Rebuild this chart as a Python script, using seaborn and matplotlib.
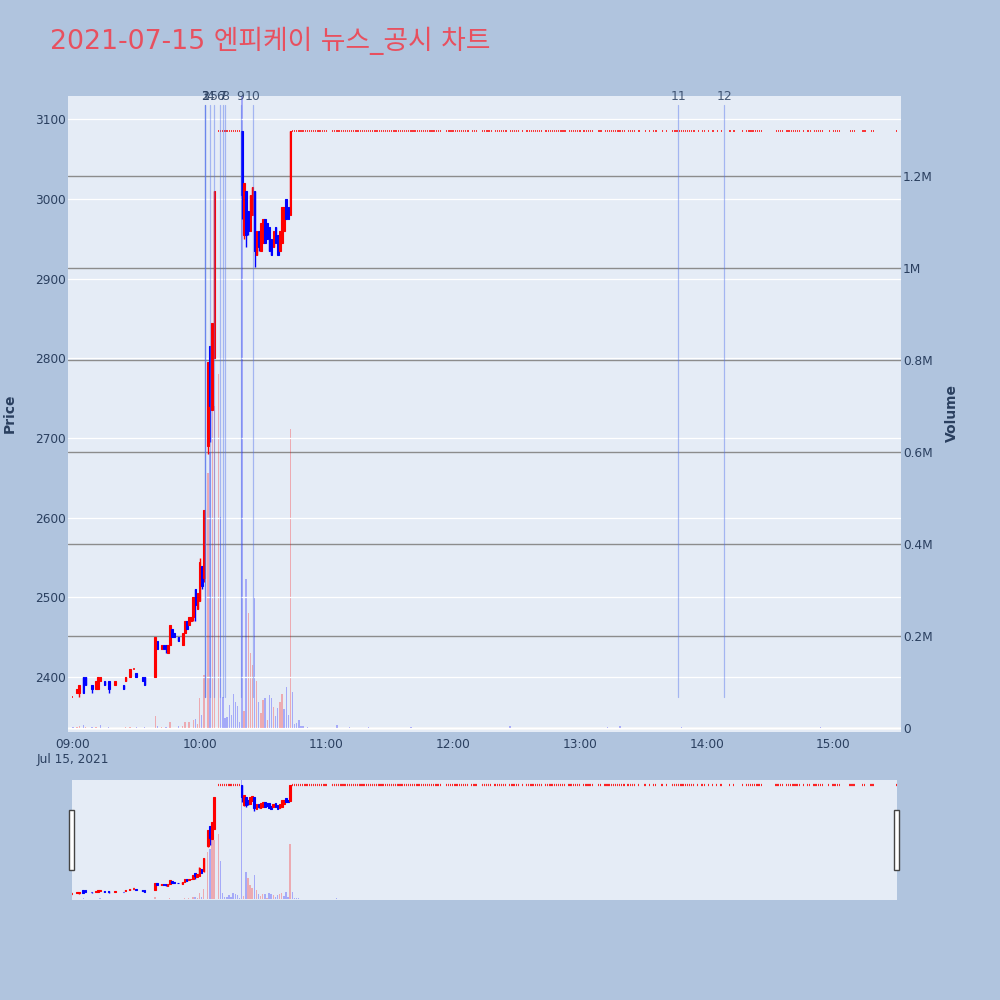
import matplotlib
matplotlib.use("Agg")
import matplotlib.pyplot as plt
from matplotlib.patches import Rectangle
import matplotlib.transforms as mtransforms
import numpy as np
import pandas as pd
import seaborn as sns

# ---------------- data ----------------
TITLE = "2021-07-15 엔피케이 뉴스_공시 차트"

candle_time = ["09:00", "09:02", "09:03", "09:05", "09:06", "09:09", "09:11", "09:12", "09:13",
               "09:15", "09:17", "09:20", "09:24", "09:25", "09:27", "09:29", "09:30", "09:33",
               "09:34", "09:39", "09:40", "09:42", "09:43", "09:44", "09:45", "09:46", "09:47",
               "09:48", "09:50", "09:52", "09:53", "09:54", "09:55", "09:56", "09:57", "09:58",
               "09:59", "10:00", "10:01", "10:02", "10:04", "10:05", "10:06", "10:07",
               "10:20", "10:21", "10:22", "10:23", "10:24", "10:25", "10:26", "10:27", "10:28",
               "10:29", "10:30", "10:31", "10:32", "10:33", "10:34", "10:35", "10:36", "10:37",
               "10:38", "10:39", "10:40", "10:41", "10:42", "10:43"]
candle_open = [2375, 2380, 2380, 2400, 2400, 2390, 2385, 2385, 2395,
               2395, 2395, 2390, 2390, 2395, 2400, 2410, 2405, 2400,
               2400, 2400, 2445, 2435, 2440, 2440, 2430, 2440, 2460,
               2455, 2450, 2440, 2455, 2470, 2465, 2470, 2475, 2510,
               2485, 2495, 2540, 2525, 2690, 2815, 2735, 2800,
               3085, 2955, 3010, 2985, 2960, 2980, 3010, 2930, 2960,
               2935, 2945, 2975, 2970, 2965, 2950, 2940, 2965, 2955,
               2935, 2945, 2960, 3000, 2990, 2980]
candle_high = [2375, 2385, 2390, 2400, 2400, 2390, 2395, 2400, 2400,
               2395, 2395, 2395, 2390, 2400, 2410, 2410, 2405, 2400,
               2400, 2450, 2445, 2440, 2440, 2440, 2440, 2465, 2460,
               2455, 2450, 2455, 2470, 2470, 2475, 2475, 2500, 2510,
               2505, 2550, 2540, 2610, 2795, 2815, 2845, 3010,
               3085, 3020, 3010, 2985, 3005, 3015, 3010, 2960, 2960,
               2970, 2975, 2975, 2970, 2965, 2950, 2960, 2965, 2955,
               2960, 2990, 2990, 3000, 2990, 3085]
candle_low = [2375, 2380, 2375, 2380, 2390, 2380, 2385, 2385, 2395,
              2390, 2380, 2390, 2385, 2395, 2400, 2410, 2400, 2395,
              2390, 2400, 2435, 2435, 2435, 2430, 2430, 2440, 2450,
              2450, 2445, 2440, 2455, 2460, 2465, 2470, 2470, 2470,
              2485, 2495, 2510, 2520, 2680, 2695, 2735, 2800,
              2975, 2950, 2940, 2955, 2960, 2980, 2915, 2930, 2935,
              2935, 2945, 2945, 2950, 2935, 2930, 2940, 2945, 2930,
              2935, 2945, 2960, 2975, 2975, 2980]
candle_close = [2375, 2385, 2390, 2380, 2390, 2385, 2395, 2400, 2400,
                2390, 2385, 2395, 2385, 2400, 2410, 2410, 2400, 2395,
                2390, 2450, 2435, 2440, 2435, 2435, 2440, 2465, 2450,
                2450, 2445, 2455, 2470, 2460, 2475, 2475, 2500, 2490,
                2505, 2545, 2515, 2610, 2795, 2740, 2845, 3010,
                3005, 3020, 2955, 2960, 3005, 3015, 2935, 2960, 2940,
                2970, 2975, 2945, 2950, 2935, 2930, 2960, 2945, 2930,
                2960, 2990, 2990, 2975, 2975, 3085]

# minutes traded flat at the upper price limit (runs of consecutive one-minute candles)
limit_price = 3085
limit_run_start = ["10:09", "10:44", "11:03", "11:57", "12:09", "12:14", "12:20", "12:27", "12:33",
                   "12:35", "12:44", "12:55", "13:02", "13:09", "13:12", "13:23", "13:28", "13:31",
                   "13:33", "13:35", "13:39", "13:41", "13:44", "13:56", "13:58", "14:01", "14:03",
                   "14:05", "14:07", "14:11", "14:13", "14:17", "14:19", "14:33", "14:38", "14:46",
                   "14:48", "14:51", "14:58", "15:00", "15:08", "15:14", "15:18", "15:30"]
limit_run_end = ["10:19", "11:00", "11:54", "12:07", "12:11", "12:18", "12:25", "12:31", "12:33",
                 "12:42", "12:53", "13:00", "13:06", "13:10", "13:21", "13:26", "13:28", "13:31",
                 "13:33", "13:36", "13:39", "13:41", "13:54", "13:56", "13:59", "14:01", "14:03",
                 "14:05", "14:07", "14:11", "14:13", "14:17", "14:26", "14:36", "14:44", "14:46",
                 "14:49", "14:55", "14:58", "15:03", "15:10", "15:15", "15:19", "15:30"]

vol_time = ["09:00", "09:02", "09:03", "09:05", "09:06", "09:09", "09:11", "09:13", "09:17",
            "09:25", "09:27", "09:30", "09:34", "09:39", "09:40", "09:42", "09:44", "09:46",
            "09:50", "09:52", "09:53", "09:55", "09:57", "09:58", "09:59", "10:00", "10:01",
            "10:02", "10:04", "10:05", "10:06", "10:07", "10:09", "10:10", "10:11", "10:12",
            "10:13", "10:14", "10:15", "10:16", "10:17", "10:18", "10:19", "10:20", "10:21",
            "10:22", "10:23", "10:24", "10:25", "10:26", "10:27", "10:28", "10:29", "10:30",
            "10:31", "10:32", "10:33", "10:34", "10:35", "10:36", "10:37", "10:38", "10:39",
            "10:40", "10:41", "10:42", "10:43", "10:44", "10:45", "10:46", "10:47", "10:48",
            "10:49", "10:51", "11:05", "11:11", "11:20", "11:40", "12:27", "13:13", "13:19",
            "13:48", "14:54"]
vol_value = [3000, 2000, 4000, 6000, 3000, 2000, 2000, 6000, 2000,
             2000, 3000, 2000, 3000, 26000, 5000, 3000, 2000, 13000,
             4000, 5000, 12000, 12000, 18000, 20000, 8000, 66000, 28000,
             116000, 555000, 600000, 760000, 700000, 770000, 459000, 67000, 22000,
             24000, 50000, 28000, 74000, 56000, 48000, 13000, 1420000, 37000,
             325000, 250000, 163000, 137000, 284000, 102000, 56000, 33000, 61000,
             65000, 17000, 72000, 65000, 46000, 26000, 43000, 56000, 74000,
             41000, 89000, 28000, 651000, 78000, 9000, 11000, 17000, 4000,
             4000, 2000, 6000, 2000, 2000, 2000, 4000, 3000, 4000,
             2000, 3000]

event_time = ["10:02:40", "10:02:40", "10:02:45", "10:04:55", "10:07:00", "10:09:50",
              "10:11:00", "10:12:10", "10:19:25", "10:25:05", "13:46:30", "14:08:20"]
event_label = ["1", "2", "3", "4", "5", "6", "7", "8", "9", "10", "11", "12"]

price_ticks = [2400, 2500, 2600, 2700, 2800, 2900, 3000, 3100]
volume_ticks = [0, 200000, 400000, 600000, 800000, 1000000, 1200000]
volume_tick_labels = ["0", "0.2M", "0.4M", "0.6M", "0.8M", "1M", "1.2M"]
time_ticks = ["09:00", "10:00", "11:00", "12:00", "13:00", "14:00", "15:00"]
time_tick_labels = ["09:00\nJul 15, 2021", "10:00", "11:00", "12:00", "13:00", "14:00", "15:00"]

# ---------------- style ----------------
RED = "#ff0000"
BLUE = "#0000ff"
VOL_RED = (1.0, 0.0, 0.0, 0.28)
VOL_BLUE = (0.0, 0.0, 1.0, 0.28)
BG = "#b0c4de"
PLOT_BG = "#e5ecf6"
INK = "#2a3f5f"

sns.set_theme(style="white", rc={
    "figure.facecolor": BG, "axes.facecolor": PLOT_BG, "axes.edgecolor": PLOT_BG,
    "text.color": INK, "xtick.color": INK, "ytick.color": INK, "axes.labelcolor": INK,
})
plt.rcParams["font.family"] = ["DejaVu Sans", "Noto Sans CJK KR"]


def tmin(s):
    p = s.split(":")
    return (int(p[0]) - 9) * 60 + int(p[1]) + (int(p[2]) / 60.0 if len(p) > 2 else 0.0)


active = pd.DataFrame({"t": candle_time, "o": candle_open, "h": candle_high,
                       "l": candle_low, "c": candle_close})
active["m"] = active["t"].map(tmin)
flat_m = []
for s, e in zip(limit_run_start, limit_run_end):
    flat_m.extend(range(int(tmin(s)), int(tmin(e)) + 1))
flat = pd.DataFrame({"m": flat_m, "o": limit_price, "h": limit_price,
                     "l": limit_price, "c": limit_price})
candles = pd.concat([active.drop(columns="t"), flat], ignore_index=True)
candles = candles.sort_values("m").reset_index(drop=True)
candles["pc"] = candles["c"].shift(1)

vol = pd.DataFrame({"m": [tmin(t) for t in vol_time], "v": vol_value})
vol = vol.merge(candles[["m", "c", "pc"]], on="m", how="left")
vol_colors = [VOL_RED if (c > pc) else VOL_BLUE for c, pc in zip(vol["c"], vol["pc"])]


def draw_candles(ax, d, doji_lw):
    col = np.where(d["c"] >= d["o"], RED, BLUE)
    ax.vlines(d["m"], d["l"], d["h"], colors=col, lw=1.0, zorder=3)
    body = d["c"] != d["o"]
    b = d[body]
    bcol = np.where(b["c"] > b["o"], RED, BLUE)
    ax.bar(b["m"], (b["c"] - b["o"]).abs(), bottom=np.minimum(b["o"], b["c"]), width=0.75,
           color=bcol, edgecolor=bcol, lw=0.8, zorder=4)
    dj = d[~body]
    ax.hlines(dj["o"], dj["m"] - 0.3, dj["m"] + 0.3, colors=RED, lw=doji_lw, alpha=0.85, zorder=4)


def draw_volume(ax):
    ax.bar(vol["m"], vol["v"], width=0.65, color=vol_colors, lw=0, zorder=2)


# ---------------- figure ----------------
fig = plt.figure(figsize=(10, 10), dpi=100)

axv = fig.add_axes([0.068, 0.268, 0.833, 0.636])
axv.set_facecolor(PLOT_BG)
axp = axv.twinx()

draw_volume(axv)
axv.set_ylim(-8700, 1374000)
axv.set_xlim(-2.3, 392.0)
axv.set_yticks(volume_ticks, volume_tick_labels)
axv.yaxis.tick_right()
axv.grid(False)
axv.yaxis.grid(True, color="#8c8c8c", lw=1.0)
axv.axhline(0, color="white", lw=1.8, zorder=1)
axv.set_xticks([tmin(t) for t in time_ticks], time_tick_labels)
axv.tick_params(axis="x", length=0, pad=4, labelsize=8.7)
axv.tick_params(axis="y", length=0, pad=1.5, labelsize=8.7)

draw_candles(axp, candles, 1.3)
axp.set_ylim(2331.2, 3129.2)
axp.set_yticks(price_ticks)
axp.yaxis.tick_left()
axp.grid(False)
axp.yaxis.grid(True, color="white", lw=0.9)
axp.tick_params(axis="y", length=0, pad=1.5, labelsize=8.7)
axp.patch.set_visible(False)

trans = mtransforms.blended_transform_factory(axp.transData, axp.transAxes)
for t, lab in zip(event_time, event_label):
    xm = tmin(t)
    axp.axvline(xm, ymin=0.055, ymax=0.986, color=(0.33, 0.45, 0.92), alpha=0.45, lw=0.9, zorder=5)
    axp.text(xm, 1.0, lab, transform=trans, ha="center", va="center", fontsize=9,
             color=INK, alpha=0.85, zorder=6)

for a in (axv, axp):
    for sp in a.spines.values():
        sp.set_visible(False)

fig.text(0.05, 0.959, TITLE, fontsize=19.3, color="#e8505f", ha="left", va="center")
fig.text(0.010, 0.587, "Price", rotation=90, ha="center", va="center",
         fontsize=10, fontweight="bold", color=INK)
fig.text(0.952, 0.587, "Volume", rotation=90, ha="center", va="center",
         fontsize=10, fontweight="bold", color=INK)

# ---------------- range slider ----------------
axs = fig.add_axes([0.072, 0.100, 0.825, 0.120])
axs.set_facecolor(PLOT_BG)
axs2 = axs.twinx()
draw_volume(axs)
axs.set_ylim(-12000, 1420000)
axs.set_xlim(-0.3, 390.3)
draw_candles(axs2, candles, 1.6)
axs2.set_ylim(2336, 3118)
axs2.patch.set_visible(False)
for a in (axs, axs2):
    a.set_xticks([])
    a.set_yticks([])
    a.grid(False)
    for sp in a.spines.values():
        sp.set_visible(False)

for x0 in (0.069, 0.894):
    fig.patches.append(Rectangle((x0, 0.130), 0.005, 0.060, transform=fig.transFigure,
                                 facecolor="white", edgecolor="#444444", lw=1.0, zorder=10))

fig.savefig("out.png", dpi=100, facecolor=BG)
